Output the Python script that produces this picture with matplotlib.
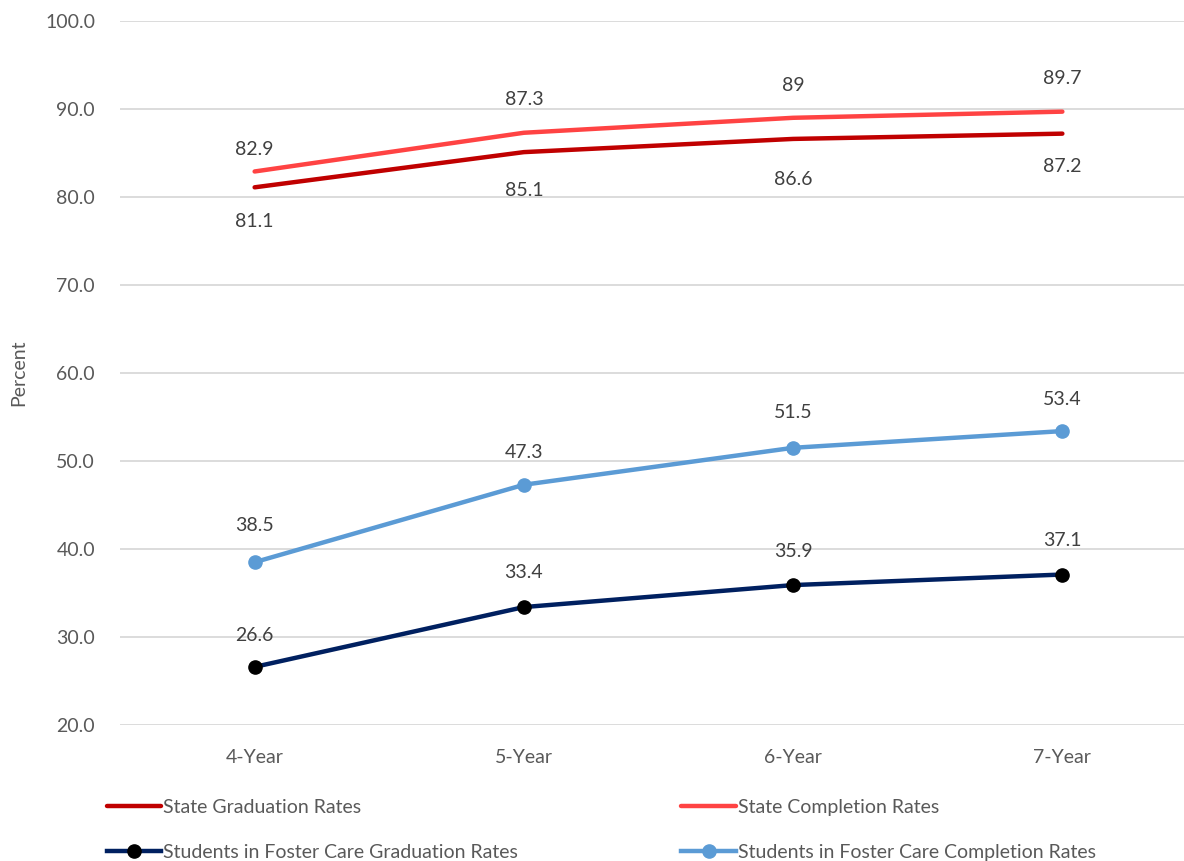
import matplotlib
matplotlib.use('Agg')
import matplotlib.pyplot as plt

plt.rcParams['font.family'] = ['Lato', 'DejaVu Sans']

years = ['4-Year', '5-Year', '6-Year', '7-Year']
state_grad = [81.1, 85.1, 86.6, 87.2]
state_comp = [82.9, 87.3, 89, 89.7]
foster_grad = [26.6, 33.4, 35.9, 37.1]
foster_comp = [38.5, 47.3, 51.5, 53.4]

# label offsets in pixels (positive = above)
off_state_grad = [-34, -38, -41, -33]
off_state_comp = [22, 33, 32, 33]
off_foster_grad = [31, 35, 34, 34]
off_foster_comp = [37, 32, 35, 32]

grey = '#595959'
fig = plt.figure(figsize=(11.84, 8.61), dpi=100)
ax = fig.add_axes([120/1184, 1 - 725/861, 1077/1184, 704/861])

x = range(len(years))
l1, = ax.plot(x, state_grad, color='#C00000', lw=3.2, solid_capstyle='round', label='State Graduation Rates')
l2, = ax.plot(x, state_comp, color='#FF4343', lw=3.2, solid_capstyle='round', label='State Completion Rates')
l3, = ax.plot(x, foster_grad, color='#002060', lw=3.2, marker='o', ms=9.5, mfc='black', mec='black',
              label='Students in Foster Care Graduation Rates')
l4, = ax.plot(x, foster_comp, color='#5B9BD5', lw=3.2, marker='o', ms=9.5, mfc='#5B9BD5', mec='#5B9BD5',
              label='Students in Foster Care Completion Rates')

for vals, offs in [(state_grad, off_state_grad), (state_comp, off_state_comp),
                   (foster_grad, off_foster_grad), (foster_comp, off_foster_comp)]:
    for i, v in enumerate(vals):
        ax.annotate('%g' % v, (i, v), xytext=(0, offs[i] * 0.72), textcoords='offset points',
                    ha='center', va='center', fontsize=14, color='#404040')

ax.set_xlim(-0.5, 3.5)
ax.set_ylim(20, 100)
ax.set_yticks(range(20, 101, 10))
ax.set_yticklabels(['%.1f' % v for v in range(20, 101, 10)])
ax.set_xticks(list(x))
ax.set_xticklabels(years)
ax.tick_params(length=0, labelsize=14, colors=grey)
ax.tick_params(axis='x', pad=17)
ax.tick_params(axis='y', pad=18)
ax.grid(axis='y', color='#D9D9D9', lw=1.3)
ax.set_axisbelow(True)
for s in ax.spines.values():
    s.set_visible(False)
ax.set_ylabel('Percent', fontsize=14, color=grey)
ax.yaxis.set_label_coords(-0.086, 0.5)

fig.legend(handles=[l1, l3, l2, l4], loc='upper left', bbox_to_anchor=(97/1184, 1 - 789/861),
           ncol=2, frameon=False, fontsize=14, labelcolor=grey, handlelength=2.8,
           handletextpad=0.1, columnspacing=8.4, labelspacing=1.45, borderpad=0)

fig.savefig('out.png', dpi=100)
